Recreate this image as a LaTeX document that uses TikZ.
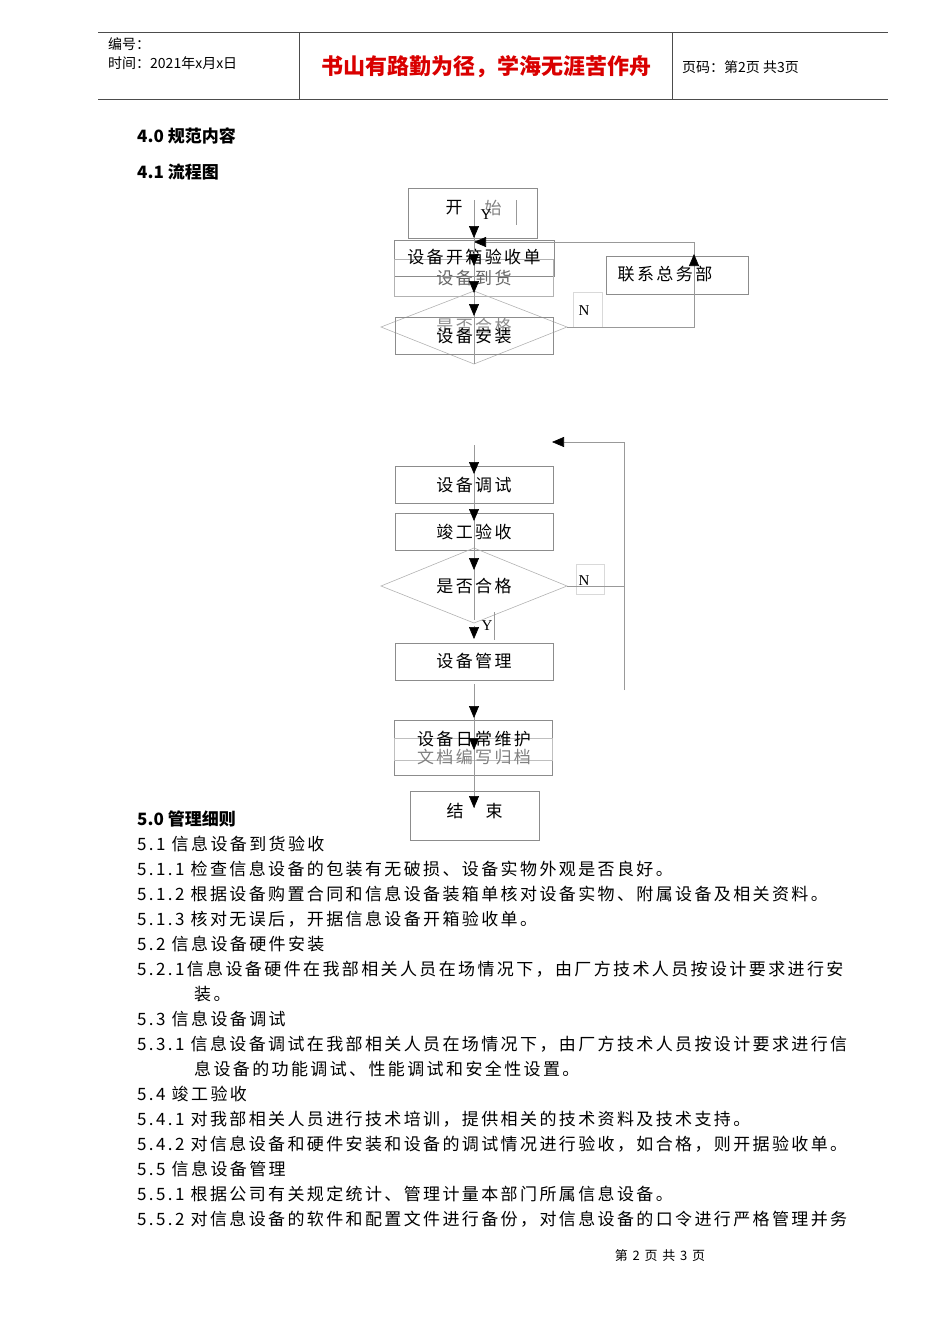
\documentclass[tikz,border=0pt]{standalone}
\usetikzlibrary{arrows.meta}
\usepackage{fontspec}
\setmainfont{Liberation Serif}
\newfontfamily\cjk[LetterSpace=14]{Noto Sans CJK SC}
\newfontfamily\cjkh{Noto Sans CJK SC}
\begin{document}
\begin{tikzpicture}[x=1pt,y=-1pt,
  bx/.style={draw=black!45,line width=0.6pt},
  ln/.style={draw=black!40,line width=0.6pt},
  ar/.style={-{Triangle[length=12pt,width=10pt,color=black]},black!40,line width=0.6pt},
  txt/.style={anchor=west,inner sep=0pt,font=\fontsize{17}{17}\cjk},
  ft/.style={inner sep=0pt,font=\fontsize{17}{17}\cjk}]
\useasboundingbox (0,0) rectangle (950,1344);
% header
\draw[black!70,line width=0.7pt] (98,32) -- (888,32) (98,99) -- (888,99) (299,32) -- (299,99) (672,32) -- (672,99);
\node[anchor=west,inner sep=0pt,font=\fontsize{14}{14}\cjkh] (h1) at (108,44) {编号：};
\node[anchor=west,inner sep=0pt,font=\fontsize{14}{14}\cjkh] (h2) at (108,63) {时间：2021年x月x日};
\node[inner sep=0pt,font=\fontsize{22}{22}\cjkh\bfseries,text=red!85!black] (h3) at (486,67) {书山有路勤为径，学海无涯苦作舟};
\node[anchor=west,inner sep=0pt,font=\fontsize{14}{14}\cjkh] (h4) at (682,67) {页码：第2页 共3页};
% flowchart top
\draw[bx] (408,188) rectangle (537,238);
\node[ft] (ks1) at (454,208) {开};
\node[ft,text=black!50] (ks2) at (493,208) {始};
\draw[ln] (516,200) -- (516,225);
\node[inner sep=0pt,font=\fontsize{15}{15}\selectfont] (y1) at (486,215) {Y};
\draw[bx] (394,240) rectangle (554,276);
\draw[bx,black!30] (394,259) rectangle (553,296);
\draw[bx,black!30] (381,327) -- (474,291) -- (567,327) -- (474,364) -- cycle;
\draw[bx] (395,317) rectangle (553,354);
\node[ft] (a1) at (474,257) {设备开箱验收单};
\node[ft,text=black!60] (a2) at (474,278) {设备到货};
\node[ft,text=black!45] (a3) at (474,326) {是否合格};
\node[ft] (a4) at (474,336) {设备安装};
\draw[bx] (606,256) rectangle (748,294);
\node[ft] (lx) at (665,274) {联系总务部};
\draw[black!15] (573,292) rectangle (602,327);
\node[inner sep=0pt,font=\fontsize{15}{15}\selectfont] (n1) at (584,311) {N};
\coordinate (c1) at (567,327); \coordinate (c2) at (694,327); \coordinate (c3) at (694,242); \coordinate (c4) at (474,242);
\draw[ln] (c1) -- (c2) -- (c3);
\draw[ar] (c3) -- (c4);
\draw[ar] (694,290) -- (694,254);
\draw[ln] (474,200) -- (474,364);
\foreach \yy in {238,266,293,316} \draw[ar] (474,\yy-13) -- (474,\yy);
% second part
\coordinate (d1) at (624,690); \coordinate (d2) at (624,442); \coordinate (d3) at (552,442);
\draw[ln] (d1) -- (d2); \draw[ar] (d2) -- (d3);
\draw[bx] (395,466) rectangle (553,503);
\draw[bx] (395,513) rectangle (553,550);
\draw[bx,black!30] (381,586) -- (474,548) -- (567,586) -- (474,623) -- cycle;
\node[ft] (b1) at (474,485) {设备调试};
\node[ft] (b2) at (474,532) {竣工验收};
\node[ft] (b3) at (474,586) {是否合格};
\draw[black!15] (576,564) rectangle (604,594);
\node[inner sep=0pt,font=\fontsize{15}{15}\selectfont] (n2) at (584,581) {N};
\draw[ln] (567,586) -- (624,586);
\node[inner sep=0pt,font=\fontsize{15}{15}\selectfont] (y2) at (487,626) {Y};
\draw[ln] (494,612) -- (494,640);
\draw[bx] (395,643) rectangle (553,680);
\node[ft] (b4) at (474,661) {设备管理};
\draw[bx] (394,720) rectangle (552,775);
\draw[bx,black!25] (394,738) rectangle (552,760);
\node[ft] (b5) at (474,739) {设备日常维护};
\node[ft,text=black!50] (b6) at (474,757) {文档编写归档};
\draw[bx] (410,791) rectangle (539,840);
\node[ft] (e1) at (455,811) {结};
\node[ft] (e2) at (494,811) {束};
\draw[ln] (474,445) -- (474,620) (474,684) -- (474,808);
\foreach \yy in {474,521,570,639,718,750,808} \draw[ar] (474,\yy-13) -- (474,\yy);
% body text
\node[txt,font=\fontsize{17}{17}\cjkh\bfseries] (t0) at (137,136) {4.0 规范内容};
\node[txt,font=\fontsize{17}{17}\cjkh\bfseries] (t1) at (137,172) {4.1 流程图};
\node[txt,font=\fontsize{17}{17}\cjkh\bfseries] (t2) at (137,819) {5.0 管理细则};
\node[txt] (l1) at (137,844) {5.1 信息设备到货验收};
\node[txt] (l2) at (137,869) {5.1.1 检查信息设备的包装有无破损、设备实物外观是否良好。};
\node[txt] (l3) at (137,894) {5.1.2 根据设备购置合同和信息设备装箱单核对设备实物、附属设备及相关资料。};
\node[txt] (l4) at (137,919) {5.1.3 核对无误后，开据信息设备开箱验收单。};
\node[txt] (l5) at (137,944) {5.2 信息设备硬件安装};
\node[txt] (l6) at (137,969) {5.2.1信息设备硬件在我部相关人员在场情况下，由厂方技术人员按设计要求进行安};
\node[txt] (l7) at (194,994) {装。};
\node[txt] (l8) at (137,1019) {5.3 信息设备调试};
\node[txt] (l9) at (137,1044) {5.3.1 信息设备调试在我部相关人员在场情况下，由厂方技术人员按设计要求进行信};
\node[txt] (l10) at (194,1069) {息设备的功能调试、性能调试和安全性设置。};
\node[txt] (l11) at (137,1094) {5.4 竣工验收};
\node[txt] (l12) at (137,1119) {5.4.1 对我部相关人员进行技术培训，提供相关的技术资料及技术支持。};
\node[txt] (l13) at (137,1144) {5.4.2 对信息设备和硬件安装和设备的调试情况进行验收，如合格，则开据验收单。};
\node[txt] (l14) at (137,1169) {5.5 信息设备管理};
\node[txt] (l15) at (137,1194) {5.5.1 根据公司有关规定统计、管理计量本部门所属信息设备。};
\node[txt] (l16) at (137,1219) {5.5.2 对信息设备的软件和配置文件进行备份，对信息设备的口令进行严格管理并务};
\node[inner sep=0pt,font=\fontsize{13}{13}\cjk] (ftr) at (660,1256) {第 2 页 共 3 页};
\end{tikzpicture}
\end{document}
